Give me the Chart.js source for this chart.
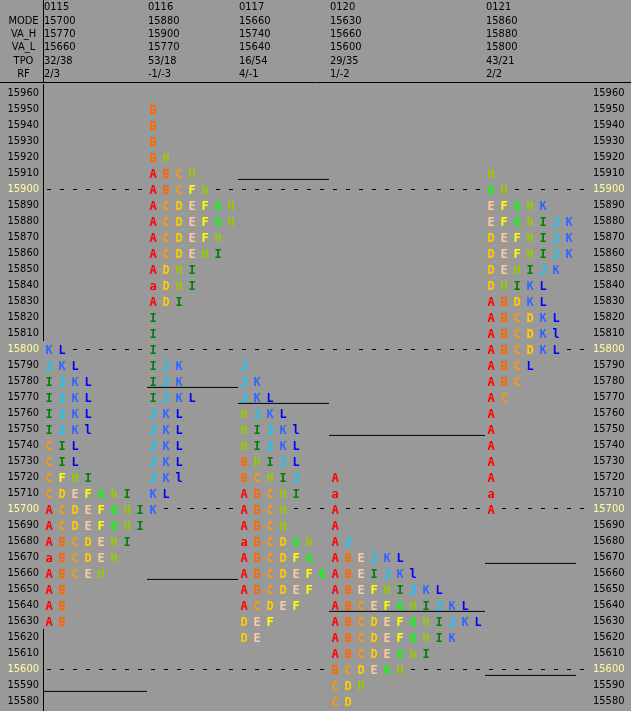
<!DOCTYPE html>
<html>
<head>
<meta charset="utf-8">
<title>TPO profile</title>
<script src="https://cdn.jsdelivr.net/npm/chart.js@4.4.1/dist/chart.umd.min.js"></script>
<style>
  html, body { margin: 0; padding: 0; background: #999999; }
  #wrap { width: 631px; height: 711px; }
</style>
</head>
<body>
<div id="wrap"><canvas id="profileChart" width="631" height="711"></canvas></div>
<script>
// ---- data ----
const days = ['0115', '0116', '0117', '0120', '0121'];
const headerRows = ['MODE', 'VA_H', 'VA_L', 'TPO', 'RF'];
const modePrice = [15700, 15880, 15660, 15630, 15860];
const vaHigh = [15770, 15900, 15740, 15660, 15880];
const vaLow = [15660, 15770, 15640, 15600, 15800];
const tpoCount = ['32/38', '53/18', '16/54', '29/35', '43/21'];
const rfValue = ['2/3', '-1/-3', '4/-1', '1/-2', '2/2'];

// value area of the session before each day (drawn in that day's column)
const prevVaHigh = [null, 15770, 15900, 15740, 15660];
const prevVaLow = [15590, 15660, 15770, 15640, 15600];

// first letter slot of every day column and price of its top row
const dayStartSlot = [0, 8, 15, 22, 34];
const dayTopPrice = [15800, 15950, 15790, 15720, 15910];

// one string per price row, top to bottom (10 points a row)
const rows0115 = ['KL', 'JKL', 'IJKL', 'IJKL', 'IJKL', 'IJKl', 'CIL', 'CIL', 'CFHI', 'CDEFGhI',
  'ACDEFGHI', 'ACDEFGHI', 'ABCDEHI', 'aBCDEH', 'ABCEH', 'AB', 'AB', 'AB'];
const rows0116 = ['B', 'B', 'B', 'BH', 'ABCH', 'ABCFh', 'ACDEFGH', 'ACDEFGH', 'ACDEFH', 'ACDEHI',
  'ADHI', 'aDHI', 'ADI', 'I', 'I', 'I', 'IJK', 'IJK', 'IJKL', 'JKL', 'JKL', 'JKL', 'JKL', 'JKl', 'KL', 'K'];
const rows0117 = ['J', 'JK', 'JKL', 'HJKL', 'HIJKl', 'HIJKL', 'BHIJL', 'BCHIJ', 'ABCHI', 'ABCH',
  'ABCH', 'aBCDGh', 'ABCDFG', 'ABCDEFG', 'ABCDEF', 'ACDEF', 'DEF', 'DE'];
const rows0120 = ['A', 'a', 'A', 'A', 'AJ', 'ABEJKL', 'ABEIJKl', 'ABEFHIJKL', 'ABCEFGHIJKL',
  'ABCDEFGHIJKL', 'ABCDEFGHIK', 'ABCDEGhI', 'BCDEGH', 'CDH', 'CD'];
const rows0121 = ['H', 'GH', 'EFGHK', 'EFGhIJK', 'DEFHIJK', 'DEFHIJK', 'DEHIJK', 'DHIKL', 'ABDKL',
  'ABCDKL', 'ABCDKl', 'ABCDKL', 'ABCL', 'ABC', 'AC', 'A', 'A', 'A', 'A', 'A', 'a', 'A'];
const dayRows = [rows0115, rows0116, rows0117, rows0120, rows0121];

const priceTicks = [15580, 15590, 15600, 15610, 15620, 15630, 15640, 15650, 15660, 15670,
  15680, 15690, 15700, 15710, 15720, 15730, 15740, 15750, 15760, 15770,
  15780, 15790, 15800, 15810, 15820, 15830, 15840, 15850, 15860, 15870,
  15880, 15890, 15900, 15910, 15920, 15930, 15940, 15950, 15960];
const keyPrices = [15900, 15800, 15700, 15600];

const letterColors = {
  A: '#ff0000', B: '#ff6600', C: '#ff9900', D: '#ffcc00', E: '#ffcc99', F: '#ffff00',
  G: '#00ff00', H: '#99cc00', I: '#008000', J: '#00ccff', K: '#3366ff', L: '#0000ff'
};

// ---- style ----
const BG = '#999999';
const TEXT_FONT = "'DejaVu Sans Condensed', 'Liberation Sans Narrow', 'DejaVu Sans', sans-serif";
const TEXT_SIZE = 11;
const LETTER_FONT = "bold 12px 'DejaVu Sans Mono', monospace";

function glyph(ch) {
    const c = document.createElement('canvas');
    c.width = 13;
    c.height = 16;
    const g = c.getContext('2d');
    g.fillStyle = BG;
    g.fillRect(0, 0, 13, 16);
    g.fillStyle = letterColors[ch.toUpperCase()];
    g.font = LETTER_FONT;
    g.textAlign = 'center';
    g.textBaseline = 'alphabetic';
    g.fillText(ch, 6, 12.5);
    return c;
}

// group letters into one dataset per glyph
const byGlyph = {};
dayRows.forEach((rows, d) => {
    rows.forEach((row, r) => {
        const price = dayTopPrice[d] - r * 10;
        row.split('').forEach((ch, s) => {
            (byGlyph[ch] = byGlyph[ch] || []).push({ x: dayStartSlot[d] + s + 0.5, y: price });
        });
    });
});

const datasets = [];

// previous value area lines
days.forEach((day, d) => {
    const width = Math.max(...dayRows[d].map(r => r.length));
    const x0 = dayStartSlot[d];
    const x1 = x0 + width;
    [[prevVaHigh[d], 6], [prevVaLow[d], -4]].forEach(([p, off]) => {
        if (p === null) return;
        datasets.push({
            data: [{ x: x0, y: p + off }, { x: x1, y: p + off }],
            showLine: true,
            borderColor: '#000000',
            borderWidth: 1,
            pointRadius: 0
        });
    });
});

Object.keys(byGlyph).forEach(ch => {
    datasets.push({
        data: byGlyph[ch],
        pointStyle: glyph(ch),
        pointRadius: 4,
        showLine: false
    });
});

const headerPlugin = {
    id: 'header',
    beforeDraw(chart) {
        const { ctx } = chart;
        ctx.save();
        ctx.fillStyle = BG;
        ctx.fillRect(0, 0, chart.width, chart.height);
        ctx.restore();
    },
    afterDraw(chart) {
        const { ctx, scales: { x } } = chart;
        const left = chart.chartArea.left;
        ctx.save();
        ctx.strokeStyle = '#000';
        ctx.lineWidth = 1;
        ctx.beginPath();
        ctx.moveTo(0, 82.5);
        ctx.lineTo(chart.width, 82.5);
        ctx.moveTo(left + 0.5, 0);
        ctx.lineTo(left + 0.5, 83);
        ctx.stroke();

        ctx.font = TEXT_SIZE + 'px ' + TEXT_FONT;
        ctx.fillStyle = '#000';
        ctx.textBaseline = 'middle';
        const rowY = i => 7.5 + i * 13.3;
        ctx.textAlign = 'center';
        headerRows.forEach((t, i) => ctx.fillText(t, 23.5, rowY(i + 1)));
        ctx.textAlign = 'left';
        days.forEach((day, d) => {
            const px = x.getPixelForValue(dayStartSlot[d]) + 1;
            const col = [day, modePrice[d], vaHigh[d], vaLow[d], tpoCount[d], rfValue[d]];
            col.forEach((t, i) => ctx.fillText(String(t), px, rowY(i)));
        });
        ctx.restore();
    }
};

const yMin = 15573.75;
const yMax = 15965.625;
const tickColor = c => keyPrices.includes(c.tick && c.tick.value) ? '#ffff99' : '#000000';
const fitY = w => scale => {
    scale.width = w;
    scale.paddingTop = 0;
    scale.paddingBottom = 0;
};

new Chart(document.getElementById('profileChart'), {
    type: 'scatter',
    data: { datasets },
    plugins: [headerPlugin],
    options: {
        responsive: false,
        animation: false,
        devicePixelRatio: 1,
        layout: { autoPadding: false, padding: { top: 84, left: 0, right: 0, bottom: 0 } },
        plugins: {
            legend: { display: false },
            tooltip: { enabled: false }
        },
        events: [],
        scales: {
            x: {
                type: 'linear',
                min: 0,
                max: 42,
                display: false
            },
            y: {
                type: 'linear',
                position: 'left',
                min: yMin,
                max: yMax,
                afterFit: fitY(43),
                afterBuildTicks: scale => { scale.ticks = priceTicks.map(v => ({ value: v })); },
                ticks: {
                    autoSkip: false,
                    padding: 4,
                    color: tickColor,
                    font: { family: TEXT_FONT, size: TEXT_SIZE },
                    callback: v => String(v)
                },
                grid: {
                    drawTicks: false,
                    lineWidth: 1,
                    color: c => keyPrices.includes(c.tick && c.tick.value) ? '#000000' : 'rgba(0,0,0,0)'
                },
                border: { display: true, color: '#000000', width: 1, dash: [4, 9], dashOffset: 10 }
            },
            y2: {
                type: 'linear',
                position: 'right',
                min: yMin,
                max: yMax,
                afterFit: fitY(42),
                afterBuildTicks: scale => { scale.ticks = priceTicks.map(v => ({ value: v })); },
                ticks: {
                    autoSkip: false,
                    padding: 4,
                    color: tickColor,
                    font: { family: TEXT_FONT, size: TEXT_SIZE },
                    callback: v => String(v)
                },
                grid: { display: false, drawTicks: false },
                border: { display: false }
            }
        }
    }
});
</script>
</body>
</html>
